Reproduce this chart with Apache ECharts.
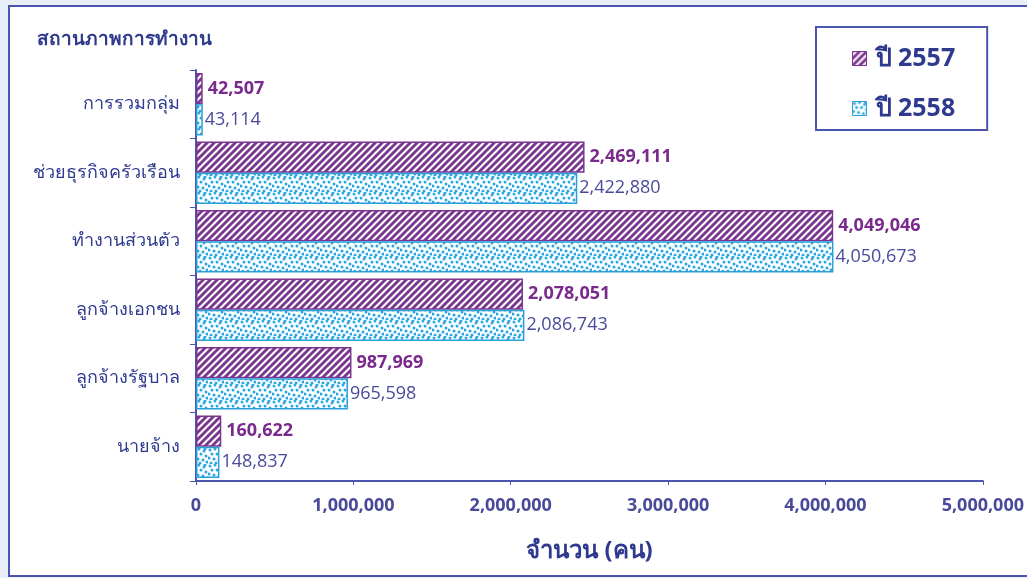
<!DOCTYPE html>
<html><head><meta charset="utf-8">
<script src="https://cdn.jsdelivr.net/npm/echarts@6/dist/echarts.min.js"></script>
<style>html,body{margin:0;padding:0;background:#e9eff8;}#c{width:1027px;height:578px;}</style>
</head><body><div id="c"></div>
<script>
const categories = ['การรวมกลุ่ม','ช่วยธุรกิจครัวเรือน','ทำงานส่วนตัว','ลูกจ้างเอกชน','ลูกจ้างรัฐบาล','นายจ้าง'];
const values2557 = [42507, 2469111, 4049046, 2078051, 987969, 160622];
const values2558 = [43114, 2422880, 4050673, 2086743, 965598, 148837];
const seriesNames = ['ปี 2557','ปี 2558'];
const xTicks = [0, 1000000, 2000000, 3000000, 4000000, 5000000];

function hatch(){
  const c = document.createElement('canvas'); c.width = 7; c.height = 7;
  const g = c.getContext('2d');
  g.fillStyle = '#ffffff'; g.fillRect(0,0,7,7);
  g.strokeStyle = '#7a3590'; g.lineWidth = 2.8;
  for (let k=-1;k<=1;k++){ g.beginPath(); g.moveTo(-1+k*7,8); g.lineTo(8+k*7,-1); g.stroke(); }
  return c;
}
function dots(){
  const c = document.createElement('canvas'); c.width = 16; c.height = 16;
  const g = c.getContext('2d');
  g.fillStyle = '#ffffff'; g.fillRect(0,0,16,16);
  g.fillStyle = '#2aa6e2';
  const pts = [[2,2],[7,1],[12,3],[4,6],[9,6],[14,8],[1,10],[6,11],[11,12],[15,14],[3,15],[8,15],[13,1]];
  pts.forEach(p=>{ g.beginPath(); g.arc(p[0],p[1],1.5,0,Math.PI*2); g.fill(); });
  return c;
}
const pHatch = {image: hatch(), repeat: 'repeat'};
const pDots = {image: dots(), repeat: 'repeat'};
const fmt = v => Number(v).toLocaleString('en-US');
const navy = '#2f3a8f';
const font = '"Open Sans", "Noto Sans", sans-serif';

const chart = echarts.init(document.getElementById('c'), null, {renderer:'canvas'});
chart.setOption({
  backgroundColor: '#e9eff8',
  animation: false,
  textStyle: {fontFamily: font},
  graphic: [
    {type:'rect', z:-10, shape:{x:9, y:6, width:1030, height:570}, style:{fill:'#ffffff', stroke:'#4a55ad', lineWidth:2}},
    {type:'text', left:37, top:30, style:{text:'สถานภาพการทำงาน', fill:navy, font:'bold 19px ' + font}}
  ],
  legend: {
    left: 816, top: 27, orient: 'vertical',
    padding: [19, 32, 9, 36],
    itemGap: 25, itemWidth: 14, itemHeight: 14,
    borderColor: '#4a55ad', borderWidth: 2,
    backgroundColor: '#ffffff',
    textStyle: {color: navy, fontSize: 25, fontWeight: 'bold', fontFamily: font, padding: [0, 0, 0, 4]},
    data: [
      {name: seriesNames[0], icon: 'rect', itemStyle: {color: pHatch, borderColor: '#7a3590', borderWidth: 1}},
      {name: seriesNames[1], icon: 'rect', itemStyle: {color: pDots, borderColor: '#2aa0d8', borderWidth: 1}}
    ]
  },
  grid: {left: 196, right: 43, top: 70, bottom: 97},
  xAxis: {
    type: 'value', min: 0, max: 5000000, interval: 1000000,
    name: 'จำนวน (คน)', nameLocation: 'middle', nameGap: 58,
    nameTextStyle: {color: navy, fontSize: 24, fontWeight: 'bold', fontFamily: font},
    axisLine: {show: true, lineStyle: {color: '#4a55ad', width: 2}},
    axisTick: {show: true, length: 4, lineStyle: {color: '#4a55ad'}},
    splitLine: {show: false},
    axisLabel: {color: '#4a4a9a', fontSize: 18, fontWeight: 'bold', margin: 16, formatter: v => fmt(v), fontFamily: font}
  },
  yAxis: {
    type: 'category', data: categories, inverse: true,
    axisLine: {show: true, lineStyle: {color: '#4a55ad', width: 2}},
    axisTick: {show: true, length: 6, lineStyle: {color: '#4a55ad'}},
    axisLabel: {color: navy, fontSize: 18, margin: 16, fontFamily: font}
  },
  series: [
    {name: seriesNames[0], type: 'bar', data: values2557, barGap: '0%', barCategoryGap: '9%',
     itemStyle: {color: pHatch, borderColor: '#7a3590', borderWidth: 1.5},
     label: {show: true, position: 'right', distance: 5, color: '#7a2a8c', fontWeight: 'bold', fontSize: 18, formatter: p => fmt(p.value), fontFamily: font}},
    {name: seriesNames[1], type: 'bar', data: values2558, barGap: '0%', barCategoryGap: '9%',
     itemStyle: {color: pDots, borderColor: '#2aa0d8', borderWidth: 1.5},
     label: {show: true, position: 'right', distance: 2, color: '#4a4a9a', fontSize: 18, formatter: p => fmt(p.value), fontFamily: font}}
  ]
});
</script></body></html>
